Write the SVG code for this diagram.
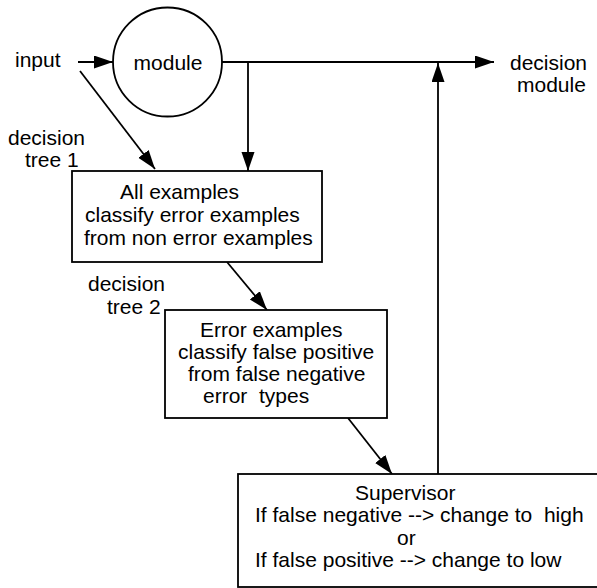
<svg xmlns="http://www.w3.org/2000/svg" width="597" height="588" viewBox="0 0 597 588">
<defs>
<marker id="arr" markerUnits="userSpaceOnUse" markerWidth="20" markerHeight="14" refX="19" refY="6.5" orient="auto">
<path d="M0,0 L19,6.5 L0,13 z" fill="#000"/>
</marker>
<style>
text{font-family:"Liberation Sans",Arial,sans-serif;font-size:21px;fill:#000;white-space:pre}
.box{fill:#fff;stroke:#000;stroke-width:1.8}
.ln{fill:none;stroke:#000;stroke-width:1.8}
.a{marker-end:url(#arr)}
</style>
</defs>
<rect width="597" height="588" fill="#fff"/>
<g id="connectors">
<line class="ln a" x1="78" y1="62" x2="113" y2="62"/>
<line class="ln a" x1="80" y1="71" x2="155" y2="169"/>
<line class="ln a" x1="222" y1="62" x2="494" y2="62"/>
<line class="ln a" x1="248" y1="62" x2="248" y2="171"/>
<line class="ln a" x1="227" y1="262" x2="267" y2="310"/>
<line class="ln a" x1="348" y1="418" x2="392" y2="474"/>
<line class="ln a" x1="438" y1="474" x2="438" y2="63"/>
</g>
<g id="input"><text x="15" y="67">input</text></g>
<g id="module">
<circle class="box" cx="167.5" cy="62" r="54.5"/>
<text x="168" y="70" text-anchor="middle">module</text>
</g>
<g id="decision-module">
<text x="510" y="70">decision</text>
<text x="517" y="92">module</text>
</g>
<g id="label-tree1">
<text x="8" y="145">decision</text>
<text x="25" y="167">tree 1</text>
</g>
<g id="tree1">
<rect class="box" x="72" y="171" width="250" height="91"/>
<text x="120" y="199">All examples</text>
<text x="85" y="222">classify error examples</text>
<text x="84" y="245">from non error examples</text>
</g>
<g id="label-tree2">
<text x="88" y="291">decision</text>
<text x="107" y="314">tree 2</text>
</g>
<g id="tree2">
<rect class="box" x="165" y="310" width="222" height="108"/>
<text x="200" y="337">Error examples</text>
<text x="178" y="359">classify false positive</text>
<text x="188" y="381">from false negative</text>
<text x="203" y="403" xml:space="preserve">error  types</text>
</g>
<g id="supervisor">
<rect class="box" x="238" y="474" width="370" height="113"/>
<text x="355" y="500">Supervisor</text>
<text x="255" y="522" xml:space="preserve">If false negative --&gt; change to  high</text>
<text x="397" y="545">or</text>
<text x="255" y="567">If false positive --&gt; change to low</text>
</g>
</svg>
